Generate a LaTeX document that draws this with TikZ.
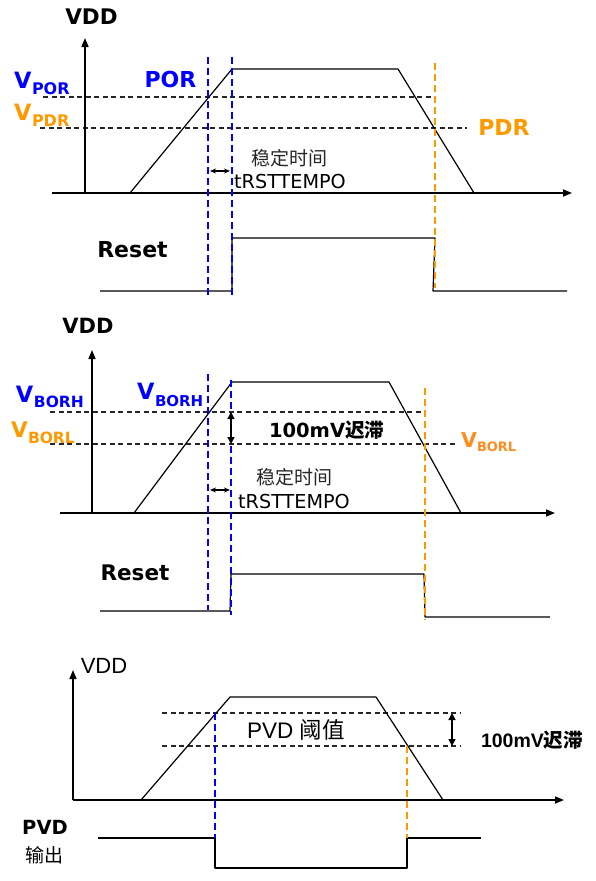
\documentclass[tikz,border=0pt]{standalone}
\usepackage{fontspec}
\setmainfont{DejaVu Sans}
\newfontfamily\arialf{Liberation Sans}
\newfontfamily\cjk{Noto Sans CJK SC}
\usetikzlibrary{arrows.meta}
\definecolor{porblue}{RGB}{0,0,255}
\definecolor{pdrorange}{RGB}{255,153,0}
\definecolor{borlorange}{RGB}{255,140,30}
\newcommand{\fs}[1]{\fontsize{#1}{#1}\selectfont}
\begin{document}
\begin{tikzpicture}[x=1pt,y=-1pt,line join=round,line cap=butt,>={Triangle[length=9pt,width=7pt]}]
				\tikzset{every node/.style={inner sep=0pt,outer sep=0pt},
					axis/.style={line width=1.6pt,->},
					sig/.style={line width=1.2pt},
					thr/.style={line width=1.2pt,black!85,dash pattern=on 5pt off 3.5pt},
					bdash/.style={line width=1.5pt,porblue,dash pattern=on 7pt off 4pt},
					odash/.style={line width=1.5pt,pdrorange,dash pattern=on 7pt off 4pt},
					hyst/.style={line width=1.4pt,{Triangle[length=7pt,width=7pt]}-{Triangle[length=7pt,width=7pt]}},
					delay/.style={line width=1.1pt,{Stealth[length=6pt,width=5pt]}-{Stealth[length=6pt,width=5pt]}}}
				\useasboundingbox (0,0) rectangle (595,881);
				% POR / PDR
				\draw[thr] (43,97)--(434,97);
				\draw[thr] (40,128)--(467,128);
				\draw[axis] (85,193)--(85,38);
				\draw[axis] (52,193)--(572,193);
				\draw[sig] (130,193)--(232,69)--(398,69)--(474,193);
				\draw[sig] (100,291)--(232,291)--(232,238)--(435,238)--(433,291)--(567,291);
				\draw[bdash] (208,57)--(208,298);
				\draw[bdash] (232,57)--(232,298);
				\draw[odash] (435,63)--(435,288);
				\draw[delay] (210,171)--(230,171);
				\node[anchor=base,font=\bfseries\fs{21.5}] (vdda) at (91.5,24) {VDD};
				\node[anchor=base west,font=\bfseries\fs{22.5},porblue] (vpor) at (14,88) {V};
				\node[anchor=base west,font=\bfseries\fs{16},porblue] (vporsub) at (32,94) {POR};
				\node[anchor=base west,font=\bfseries\fs{22.5},pdrorange] (vpdr) at (14,120) {V};
				\node[anchor=base west,font=\bfseries\fs{16},pdrorange] (vpdrsub) at (32,126) {PDR};
				\node[anchor=base,font=\bfseries\fs{22},porblue] (por) at (170.5,87) {POR};
				\node[anchor=base,font=\bfseries\fs{22},pdrorange] (pdr) at (504,135) {PDR};
				\node[font=\cjk\fs{19},black!85] (stablea) at (289.5,158.5) {稳定时间};
				\node[anchor=base,font=\fs{19.2}] (trsta) at (290,188) {tRSTTEMPO};
				\node[anchor=base,font=\bfseries\fs{22}] (reseta) at (132.5,257) {Reset};
				% BOR
				\draw[thr] (50,412)--(425,412);
				\draw[thr] (50,444)--(455,444);
				\draw[axis] (92,513)--(92,350);
				\draw[axis] (60,513)--(555,513);
				\draw[sig] (134,513)--(232,382)--(389,382)--(461,513);
				\draw[sig] (100,611)--(230,611)--(231,574)--(424,574)--(425,617)--(550,617);
				\draw[bdash] (208,374)--(208,610);
				\draw[bdash] (231,380)--(231,615);
				\draw[odash] (425,388)--(425,620);
				\draw[hyst] (231,412)--(231,444);
				\draw[delay] (210,490)--(230,490);
				\node[anchor=base,font=\bfseries\fs{21}] (vddb) at (88,333) {VDD};
				\node[anchor=base west,font=\bfseries\fs{22.5},porblue] (vborh) at (16,402) {V};
				\node[anchor=base west,font=\bfseries\fs{15.5},porblue] (vborhsub) at (34,407) {BORH};
				\node[anchor=base west,font=\bfseries\fs{21.5},pdrorange] (vborl) at (11,437) {V};
				\node[anchor=base west,font=\bfseries\fs{15.5},pdrorange] (vborlsub) at (28,443) {BORL};
				\node[anchor=base west,font=\bfseries\fs{22.5},porblue] (vborhm) at (137,399) {V};
				\node[anchor=base west,font=\bfseries\fs{15},porblue] (vborhmsub) at (155,406) {BORH};
				\node[anchor=base west,font=\bfseries\fs{20.5},borlorange] (vborlr) at (461,447) {V};
				\node[anchor=base west,font=\bfseries\fs{13},borlorange] (vborlrsub) at (477,451) {BORL};
				\node[anchor=base west,font=\bfseries\fs{19.5}] (hystb) at (269,437) {100mV{\cjk 迟滞}};
				\node[font=\cjk\fs{19},black!85] (stableb) at (294,477.5) {稳定时间};
				\node[anchor=base,font=\fs{19.2}] (trstb) at (294,508) {tRSTTEMPO};
				\node[anchor=base,font=\bfseries\fs{21.5}] (resetb) at (135,580) {Reset};
				% PVD
				\draw[thr] (162,713)--(460,713);
				\draw[thr] (162,746)--(460,746);
				\draw[axis] (73,800)--(73,670);
				\draw[axis] (73,800)--(564,800);
				\draw[sig] (141,800)--(230,697)--(376,697)--(443,800);
				\draw[sig] (98,838)--(215,838)--(215,868)--(407,868)--(407,838)--(481,838);
				\draw[bdash] (215,713)--(215,838);
				\draw[odash] (407,746)--(407,838);
				\draw[hyst] (452,713)--(452,746);
				\node[anchor=base,font=\arialf\fs{22}] (vddc) at (104,673) {VDD};
				\node[anchor=base west,font=\arialf\fs{22.5}] (pvdth) at (247,738) {PVD {\cjk 阈值}};
				\node[anchor=base west,font=\arialf\bfseries\fs{19.5}] (hystc) at (481,747) {100mV{\cjk 迟滞}};
				\node[anchor=base,font=\bfseries\fs{19.5}] (pvdout) at (45,834) {PVD};
				\node[font=\cjk\fs{19}] (pvdoutcn) at (44,855) {输出};
\end{tikzpicture}
\end{document}
